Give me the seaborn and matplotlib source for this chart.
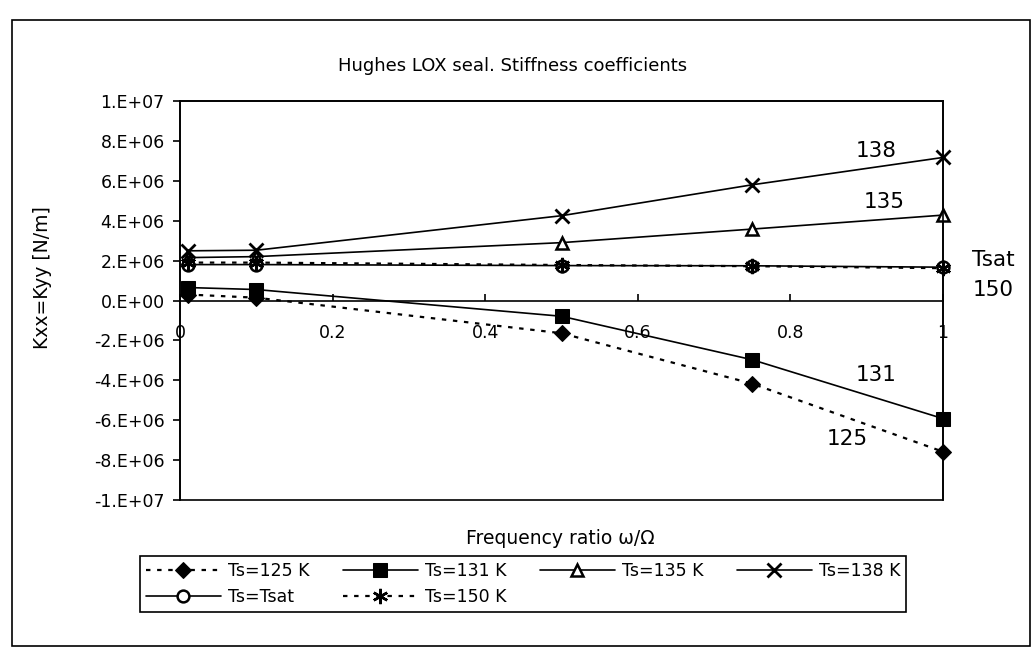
import numpy as np
import pandas as pd
import matplotlib
matplotlib.use("Agg")
import matplotlib.pyplot as plt
from matplotlib.patches import Rectangle
from matplotlib.ticker import FuncFormatter, FixedLocator
import seaborn as sns

# Frequency ratio (whirl / spin) at which the coefficients were computed
freq_ratio = [0.01, 0.1, 0.5, 0.75, 1.0]

# Direct stiffness Kxx = Kyy [N/m] for each seal supply temperature
k_125 = [0.30e6, 0.14e6, -1.64e6, -4.17e6, -7.58e6]
k_131 = [0.65e6, 0.55e6, -0.79e6, -2.97e6, -5.92e6]
k_135 = [2.15e6, 2.20e6, 2.90e6, 3.58e6, 4.28e6]
k_138 = [2.49e6, 2.52e6, 4.25e6, 5.80e6, 7.17e6]
k_tsat = [1.80e6, 1.80e6, 1.75e6, 1.74e6, 1.67e6]
k_150 = [1.90e6, 1.90e6, 1.78e6, 1.72e6, 1.62e6]

series_labels = ["Ts=125 K", "Ts=131 K", "Ts=135 K", "Ts=138 K", "Ts=Tsat", "Ts=150 K"]
end_labels = ["125", "131", "135", "138", "Tsat", "150"]
x_ticks = [0, 0.2, 0.4, 0.6, 0.8, 1.0]
x_tick_labels = ["0", "0.2", "0.4", "0.6", "0.8", "1"]
y_ticks = [-1e7, -8e6, -6e6, -4e6, -2e6, 0, 2e6, 4e6, 6e6, 8e6, 1e7]

sns.set_theme(style="white")
plt.rcParams["font.family"] = ["DejaVu Sans"]

W, H = 1036, 659
fig = plt.figure(figsize=(W / 100, H / 100), dpi=100)
fig.patch.set_facecolor("white")

# chart area frame
fig.patches.append(Rectangle((12 / W, 1 - 646 / H), (1030 - 12) / W, (646 - 20) / H,
                             transform=fig.transFigure, fill=False,
                             edgecolor="black", lw=1.2))

ax = fig.add_axes([180 / W, 1 - 500 / H, (943 - 180) / W, (500 - 101) / H])
ax.set_facecolor("white")

dotted = (0, (2.0, 3.0))
styles = [
    dict(linestyle=dotted, marker="D", markersize=8.5, markerfacecolor="black",
         markeredgecolor="black"),
    dict(linestyle="-", marker="s", markersize=9.5, markerfacecolor="black",
         markeredgecolor="black"),
    dict(linestyle="-", marker="^", markersize=8.5, markerfacecolor="white",
         markeredgecolor="black", markeredgewidth=1.8),
    dict(linestyle="-", marker="x", markersize=10, markeredgecolor="black",
         markeredgewidth=2.0),
    dict(linestyle="-", marker="o", markersize=8.5, markerfacecolor="white",
         markeredgecolor="black", markeredgewidth=1.8),
    dict(linestyle=dotted, marker=(6, 2, 0), markersize=11, markeredgecolor="black",
         markeredgewidth=1.8),
]
series_values = [k_125, k_131, k_135, k_138, k_tsat, k_150]
line_widths = [1.6, 1.2, 1.2, 1.2, 1.2, 1.6]

handles = []
for vals, lab, st, lw in zip(series_values, series_labels, styles, line_widths):
    df = pd.DataFrame({"ratio": freq_ratio, "K": vals})
    n_before = len(ax.lines)
    sns.lineplot(data=df, x="ratio", y="K", ax=ax, color="black", linewidth=lw,
                 errorbar=None, legend=False, clip_on=False, **st)
    handles.append(ax.lines[n_before])

ax.set_xlim(0, 1)
ax.set_ylim(-1e7, 1e7)

# x axis runs through K = 0, plot area keeps a full border
ax.spines["bottom"].set_position(("data", 0))
for sp in ax.spines.values():
    sp.set_color("black")
    sp.set_linewidth(1.2)
ax.add_patch(Rectangle((0, 0), 1, 1, transform=ax.transAxes, fill=False,
                       edgecolor="black", lw=1.2, clip_on=False))

ax.xaxis.set_major_locator(FixedLocator(x_ticks))
ax.set_xticklabels(x_tick_labels)
ax.yaxis.set_major_locator(FixedLocator(y_ticks))


def excel_sci(v, _pos):
    s = f"{v:.0e}"
    mant, exp = s.split("e")
    return f"{mant}.E{exp}"


ax.yaxis.set_major_formatter(FuncFormatter(excel_sci))
ax.tick_params(axis="y", direction="out", length=5, width=1.2, color="black",
               labelsize=12.5, pad=6, left=True, labelcolor="black")
ax.tick_params(axis="x", direction="in", length=5, width=1.2, color="black",
               labelsize=12.5, pad=17, bottom=True, labelcolor="black")
ax.grid(False)

ax.set_xlabel("")
ax.set_ylabel("")
fig.text(42 / W, 1 - 278 / H, "Kxx=Kyy [N/m]", rotation=90, ha="center",
         va="center", fontsize=13.5, color="black")

fig.text(513 / W, 1 - 66 / H, "Hughes LOX seal. Stiffness coefficients",
         ha="center", va="center", fontsize=13, color="black")
fig.text(560 / W, 1 - 539 / H, "Frequency ratio \u03c9/\u03a9",
         ha="center", va="center", fontsize=13.5, color="black")

# temperature tags next to the curve ends
tag_pos = [(0.874, -6.95e6), (0.913, -3.72e6), (0.923, 4.93e6), (0.912, 7.47e6),
           (1.066, 2.03e6), (1.066, 0.53e6)]
for (tx, ty), tag in zip(tag_pos, end_labels):
    ax.text(tx, ty, tag, ha="center", va="center", fontsize=15.5, color="black",
            clip_on=False)

# legend laid out in two rows: four entries on top, two below
order = [0, 4, 1, 5, 2, 3]
leg = fig.legend([handles[i] for i in order], [series_labels[i] for i in order],
                 loc="upper left", bbox_to_anchor=(140 / W, 1 - 556 / H),
                 ncol=4, fontsize=12.5, frameon=True, fancybox=False,
                 framealpha=1.0, edgecolor="black", handlelength=4.3,
                 handletextpad=0.4, columnspacing=1.95, labelspacing=0.45,
                 borderpad=0.35, borderaxespad=0)
leg.get_frame().set_linewidth(1.2)
for t in leg.get_texts():
    t.set_color("black")

fig.savefig("out.png", dpi=100, facecolor="white")
